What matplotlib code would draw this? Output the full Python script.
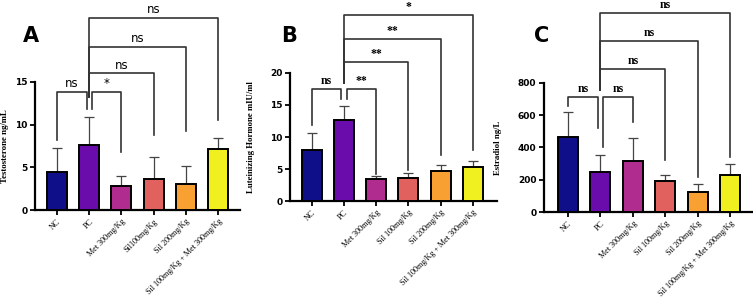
import numpy as np
import matplotlib
matplotlib.use("Agg")
import matplotlib.pyplot as plt

groups = ["NC", "PC", "Met 300mg/Kg", "Sil100mg/Kg", "Sil 200mg/Kg",
          "Sil 100mg/Kg + Met 300mg/Kg"]
groups_bc = ["NC", "PC", "Met 300mg/Kg", "Sil 100mg/Kg", "Sil 200mg/Kg",
             "Sil 100mg/Kg + Met 300mg/Kg"]
colors = ["#0f0f8a", "#6a0bab", "#b02d8f", "#e0615e", "#f8a132", "#f0f020"]

testo = [4.4, 7.6, 2.85, 3.6, 3.1, 7.1]
testo_err = [2.85, 3.3, 1.15, 2.6, 2.0, 1.3]

lh = [7.9, 12.7, 3.4, 3.6, 4.7, 5.3]
lh_err = [2.7, 2.2, 0.5, 0.8, 1.0, 0.9]

e2 = [468, 251, 315, 193, 122, 232]
e2_err = [150, 101, 145, 35, 50, 66]

# (x1, x2, height, leg1 bottom, leg2 bottom, label)
brackets_a = [(0, 0.92, 13.8, 8.2, 11.8, "ns"),
              (1.08, 2, 13.8, 11.8, 6.8, "*"),
              (1, 3, 16.0, 13.3, 8.8, "ns"),
              (1, 4, 19.1, 13.3, 9.2, "ns"),
              (1, 5, 22.5, 13.3, 10.5, "ns")]
brackets_b = [(0, 0.92, 17.5, 11.8, 15.9, "ns"),
              (1.08, 2, 17.5, 15.9, 4.2, "**"),
              (1, 3, 21.7, 18.4, 4.8, "**"),
              (1, 4, 25.3, 18.4, 7.2, "**"),
              (1, 5, 29.1, 18.4, 7.9, "*")]
brackets_c = [(0, 0.92, 713, 659, 522, "ns"),
              (1.08, 2, 713, 406, 560, "ns"),
              (1, 3, 887, 754, 323, "ns"),
              (1, 4, 1059, 754, 220, "ns"),
              (1, 5, 1235, 754, 344, "ns")]

fig = plt.figure(figsize=(7.53, 3.02), dpi=100)


def panel(rect, vals, errs, labels, ylim, yticks, xlim, ylabel, brackets,
          sig_font, letter, letter_pos, ylabel_x):
    ax = fig.add_axes(rect)
    x = np.arange(len(vals))
    ax.bar(x, vals, width=0.62, color=colors, edgecolor="black",
           linewidth=1.4, zorder=3)
    ax.errorbar(x, vals, yerr=[np.zeros(len(vals)), errs], fmt="none",
                ecolor="#444444", elinewidth=0.9, capsize=3.5, capthick=0.9,
                zorder=2)
    ax.set_xlim(*xlim)
    ax.set_ylim(*ylim)
    ax.set_yticks(yticks)
    ax.set_xticks(x)
    ax.set_xticklabels(labels, rotation=45, ha="right",
                       rotation_mode="anchor", family="Liberation Serif",
                       fontsize=5.9)
    for t in ax.get_yticklabels():
        t.set_fontweight("bold")
        t.set_fontsize(6.5)
    for s in ["top", "right"]:
        ax.spines[s].set_visible(False)
    for s in ["left", "bottom"]:
        ax.spines[s].set_linewidth(1.6)
    ax.tick_params(width=1.3, length=3.5, pad=2)
    ax.set_ylabel(ylabel, family="Liberation Serif", fontweight="bold",
                  fontsize=6.3)
    ax.yaxis.set_label_coords(ylabel_x, 0.5)
    for x1, x2, h, b1, b2, lab in brackets:
        ax.plot([x1, x1, x2, x2], [b1, h, h, b2], color="#333333",
                linewidth=1.2, clip_on=False, zorder=4)
        ax.text((x1 + x2) / 2, h + (ylim[1] - ylim[0]) * 0.015, lab,
                ha="center", va="bottom", fontsize=8.5, clip_on=False,
                **sig_font)
    fig.text(letter_pos[0], letter_pos[1], letter, fontsize=15,
             fontweight="bold", ha="left", va="center")
    return ax


panel([0.0465, 0.3046, 0.2722, 0.4239], testo, testo_err, groups,
      (0, 15), [0, 5, 10, 15], (-0.68, 5.68), "Testosterone ng/mL",
      brackets_a, {"family": "DejaVu Sans"}, "A", (0.031, 0.88), -0.125)
panel([0.385, 0.3344, 0.275, 0.4239], lh, lh_err, groups_bc,
      (0, 20), [0, 5, 10, 15, 20], (-0.68, 5.75),
      "Luteinizing Hormone mIU/ml",
      brackets_b, {"family": "Liberation Serif", "fontweight": "bold"},
      "B", (0.374, 0.88), -0.17)
panel([0.7224, 0.298, 0.2763, 0.4272], e2, e2_err, groups_bc,
      (0, 800), [0, 200, 400, 600, 800], (-0.74, 5.68), "Estradiol ng/L",
      brackets_c, {"family": "Liberation Serif", "fontweight": "bold"},
      "C", (0.709, 0.88), -0.2)

fig.savefig("out.png", dpi=100)
